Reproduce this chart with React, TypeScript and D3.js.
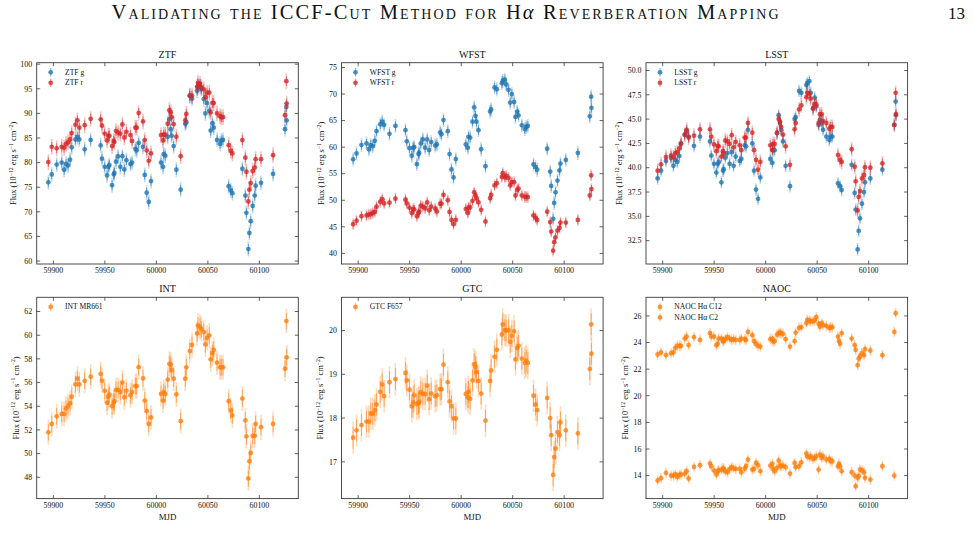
import React from "react";
import * as d3 from "d3";

const mjd = [
  59895.1, 59898.4, 59903.2, 59908.1, 59910.4, 59912.3, 59914.2, 59916.2, 59917.8, 59921.4,
  59923.3, 59925.2, 59930.4, 59936.2, 59945.9, 59947.2, 59949.8, 59952.1, 59953.4, 59954.4,
  59957.0, 59958.6, 59959.2, 59960.8, 59962.8, 59965.0, 59967.0, 59968.9, 59970.9, 59974.8,
  59976.4, 59979.6, 59980.9, 59982.8, 59987.0, 59988.7, 59990.6, 59992.6, 59994.8, 60004.5,
  60006.5, 60007.1, 60008.7, 60011.0, 60012.6, 60013.9, 60014.9, 60016.8, 60019.4, 60023.6,
  60028.1, 60029.1, 60032.4, 60034.6, 60039.5, 60040.4, 60042.4, 60043.7, 60046.0, 60047.6,
  60049.2, 60051.4, 60052.7, 60054.4, 60055.7, 60058.9, 60061.8, 60063.1, 60064.7, 60070.2,
  60072.2, 60073.8, 60083.5, 60086.4, 60087.4, 60089.3, 60090.3, 60091.6, 60093.5, 60095.5,
  60096.4, 60101.6, 60113.3, 60124.9, 60126.2, 60126.5,
];

const ztfG = [
  76.0, 77.6, 79.6, 80.0, 78.55, 79.76, 79.4, 80.6, 83.1, 84.7,
  85.2, 84.7, 82.7, 84.6, 83.5, 80.8, 79.15, 77.4, 79.15, 79.5,
  75.4, 77.6, 77.9, 80.2, 81.25, 79.15, 81.3, 78.6, 80.5, 79.7,
  80.0, 82.8, 82.5, 84.0, 83.2, 77.5, 73.9, 72.0, 76.25, 80.0,
  79.15, 81.7, 81.4, 85.25, 88.8, 86.8, 85.45, 83.35, 78.55, 74.5,
  87.9, 88.2, 93.6, 93.0, 94.6, 95.4, 95.5, 95.0, 92.9, 90.0,
  92.1, 90.5, 86.5, 88.0, 87.1, 84.6, 83.8, 84.5, 84.6, 75.2,
  74.35, 73.8, 78.75, 73.3, 69.8, 62.44, 65.7, 68.1, 71.2, 73.3,
  75.3, 75.9, 77.7, 86.8, 91.3, 88.6,
];
const ztfR = [
  80.1, 83.2, 82.9, 83.2, 83.0, 83.8, 84.1, 84.7, 86.0, 87.7,
  88.6, 87.1, 87.6, 88.9, 88.8, 87.5, 85.9, 84.5, 85.45, 85.45,
  83.35, 84.4, 84.2, 86.4, 86.1, 85.85, 87.75, 85.1, 86.26, 85.6,
  84.4, 87.1, 87.1, 90.1, 88.36, 84.57, 82.47, 80.37, 81.86, 85.6,
  84.5, 85.7, 85.7, 87.9, 90.66, 90.2, 89.24, 87.8, 85.25, 81.3,
  88.6, 89.9, 93.6, 93.6, 95.4, 96.2, 96.0, 95.3, 94.9, 93.3,
  94.2, 94.2, 90.2, 92.15, 92.1, 90.0, 89.44, 89.2, 89.24, 83.55,
  82.4, 81.86, 84.57, 81.0, 78.14, 72.1, 74.5, 75.84, 78.3, 79.0,
  80.7, 80.7, 81.5, 89.64, 96.55, 92.0,
];

const wfstG = [
  57.7, 58.8, 60.4, 60.7, 59.6, 60.4, 60.2, 61.2, 63.0, 64.3,
  64.8, 64.2, 62.5, 64.0, 63.2, 61.1, 59.8, 58.4, 59.9, 60.0,
  56.8, 58.7, 58.95, 60.7, 61.45, 59.9, 61.45, 59.45, 60.95, 60.3,
  60.5, 62.8, 62.45, 65.1, 63.0, 58.7, 55.8, 54.3, 57.75, 60.5,
  59.9, 61.95, 61.8, 64.8, 67.5, 65.9, 64.8, 63.2, 59.6, 56.4,
  66.7, 67.1, 71.24, 70.9, 72.05, 72.5, 72.7, 71.8, 70.8, 68.4,
  70.0, 68.5, 65.7, 66.7, 66.0, 64.1, 63.4, 63.8, 64.0, 56.75,
  56.25, 55.75, 59.7, 55.4, 52.7, 46.5, 49.5, 51.5, 53.7, 55.6,
  56.9, 57.6, 58.9, 65.8, 69.5, 67.4,
];
const wfstR = [
  45.5, 46.15, 47.0, 47.15, 47.3, 47.4, 47.6, 47.8, 48.8, 49.7,
  50.2, 49.4, 49.55, 50.3, 50.1, 49.4, 48.6, 47.6, 48.35, 48.3,
  47.0, 47.6, 47.85, 49.0, 48.8, 48.5, 49.6, 48.1, 48.8, 48.4,
  47.9, 49.35, 49.35, 51.0, 50.0, 47.8, 46.3, 45.5, 46.3, 48.35,
  47.6, 48.65, 48.65, 49.9, 51.5, 50.9, 50.35, 49.6, 48.2, 46.0,
  50.4, 51.0, 52.8, 53.2, 54.4, 55.1, 54.3, 54.6, 54.2, 52.85,
  53.4, 53.4, 50.9, 52.0, 52.2, 50.9, 50.65, 50.65, 50.6, 47.15,
  46.7, 46.3, 47.85, 45.9, 44.1, 40.5, 42.1, 43.0, 44.3, 44.8,
  45.8, 45.8, 46.3, 50.9, 54.7, 52.1,
];

const lsstG = [
  38.9, 39.7, 40.7, 41.0, 40.2, 40.8, 40.6, 41.2, 42.45, 43.4,
  43.7, 43.2, 42.25, 43.2, 42.7, 41.25, 40.4, 39.5, 40.4, 40.6,
  38.5, 39.7, 39.85, 41.05, 41.5, 40.4, 41.6, 40.2, 41.15, 40.7,
  40.9, 42.3, 42.2, 43.9, 42.5, 39.7, 37.75, 36.8, 39.0, 40.9,
  40.5, 41.8, 41.8, 43.55, 45.4, 44.6, 43.9, 42.7, 40.2, 38.1,
  45.0, 45.2, 47.9, 47.7, 48.5, 48.7, 48.9, 47.7, 46.1, 47.2,
  46.3, 44.4, 44.9, 44.6, 43.9, 43.2, 42.85, 43.2, 43.2, 38.4,
  38.1, 37.7, 40.3, 37.4, 35.7, 31.6, 33.5, 34.8, 36.3, 37.5,
  38.5, 38.9, 39.8, 44.4, 46.8, 45.4,
];
const lsstR = [
  39.7, 40.35, 41.1, 41.25, 41.1, 41.5, 41.6, 42.0, 42.5, 43.4,
  43.9, 43.1, 43.3, 43.95, 43.95, 43.2, 42.4, 41.7, 42.25, 42.2,
  41.15, 41.7, 41.5, 42.8, 42.7, 42.45, 43.35, 42.1, 42.65, 42.3,
  41.8, 43.1, 43.1, 44.6, 43.6, 41.8, 40.8, 39.8, 40.6, 42.3,
  41.8, 42.45, 42.45, 43.6, 45.0, 44.75, 44.2, 43.4, 42.2, 40.3,
  43.95, 44.6, 46.0, 46.4, 47.25, 47.7, 47.6, 47.1, 46.1, 46.55,
  46.5, 44.6, 45.5, 45.5, 44.8, 44.6, 44.0, 44.2, 44.2, 41.3,
  40.8, 40.6, 41.9, 40.1, 38.6, 35.6, 37.0, 37.6, 38.9, 39.25,
  40.05, 40.0, 40.45, 44.4, 47.7, 45.5,
];

const intMR = [
  51.8, 52.5, 53.15, 53.35, 53.35, 53.8, 54.0, 54.25, 54.8, 55.85,
  56.33, 55.85, 56.15, 56.5, 56.73, 56.15, 55.3, 54.3, 54.8, 54.97,
  54.0, 54.3, 54.4, 55.38, 55.38, 55.2, 56.0, 54.76, 55.3, 54.93,
  55.2, 55.7, 55.7, 57.3, 56.35, 54.48, 53.6, 52.5, 53.05, 55.04,
  54.48, 55.2, 55.04, 56.25, 57.57, 57.5, 57.06, 56.33, 55.0, 52.74,
  56.33, 57.29, 58.66, 59.17, 60.15, 60.82, 60.7, 60.5, 60.26, 59.22,
  59.78, 59.98, 57.96, 58.47, 58.75, 57.68, 57.29, 57.29, 57.29, 54.42,
  53.64, 53.22, 54.65, 52.8, 51.45, 47.9, 49.35, 50.05, 51.5, 51.5,
  52.5, 52.23, 52.5, 57.17, 61.19, 58.13,
];

const gtcF = [
  17.55, 17.72, 17.84, 17.92, 17.92, 18.1, 18.1, 18.18, 18.31, 18.6,
  18.77, 18.5, 18.82, 18.89, 19.03, 18.86, 18.65, 18.27, 18.36, 18.52,
  18.32, 18.34, 18.37, 18.59, 18.55, 18.55, 18.74, 18.43, 18.56, 18.5,
  18.52, 18.66, 18.66, 19.22, 18.82, 18.38, 18.27, 17.99, 17.99, 18.55,
  18.47, 18.6, 18.44, 18.86, 19.23, 19.17, 19.05, 18.85, 18.56, 17.94,
  18.85, 19.09, 19.4, 19.56, 19.91, 20.14, 20.01, 20.0, 20.01, 19.74,
  19.88, 19.98, 19.34, 19.6, 19.65, 19.36, 19.26, 19.31, 19.26, 18.51,
  18.31, 18.18, 18.46, 18.0, 17.61, 16.7, 17.11, 17.3, 17.68, 17.61,
  17.9, 17.72, 17.65, 19.12, 20.14, 19.47,
];

const naocMjd = [
  59895.1, 59898.4, 59903.2, 59908.1, 59910.4, 59912.3, 59914.2, 59916.2, 59917.8, 59921.4,
  59923.3, 59925.2, 59930.4, 59936.2, 59945.9, 59947.2, 59949.8, 59952.1, 59953.4, 59954.4,
  59957.0, 59958.6, 59959.2, 59960.8, 59962.8, 59965.0, 59967.0, 59968.9, 59970.9, 59974.8,
  59976.4, 59979.6, 59980.9, 59982.8, 59987.0, 59988.7, 59990.6, 59992.6, 59994.8, 60004.5,
  60006.5, 60007.1, 60008.7, 60011.0, 60012.6, 60013.9, 60014.9, 60016.8, 60019.4, 60023.6,
  60028.1, 60029.1, 60032.4, 60034.6, 60039.5, 60040.4, 60042.4, 60043.7, 60046.0, 60047.6,
  60049.2, 60051.4, 60052.7, 60054.4, 60055.7, 60058.9, 60061.8, 60063.1, 60064.7, 60070.2,
  60071.2, 60072.2, 60073.8, 60083.5, 60086.4, 60087.4, 60089.3, 60090.3, 60091.6, 60093.5,
  60095.5, 60096.4, 60101.6, 60113.3, 60124.9, 60126.2,
];
const naocC12 = [
  23.1, 23.25, 23.05, 23.2, 23.25, 23.6, 23.75, 23.75, 23.75, 24.3,
  24.45, 23.8, 24.4, 24.2, 24.7, 24.45, 24.45, 23.8, 23.9, 24.3,
  24.3, 24.1, 24.1, 24.25, 24.4, 24.3, 24.2, 24.25, 24.2, 24.2,
  24.3, 24.25, 24.2, 24.8, 24.55, 24.1, 23.9, 23.75, 23.7, 24.25,
  24.25, 24.1, 24.1, 24.6, 24.7, 24.75, 24.7, 24.65, 24.25, 23.7,
  24.1, 24.75, 25.1, 25.15, 25.45, 25.7, 25.65, 25.6, 25.6, 25.65,
  25.9, 25.4, 25.2, 25.45, 25.3, 25.25, 25.1, 25.15, 25.15, 24.45,
  24.1, 23.9, 24.7, 24.3, 23.8, 23.45, 22.3, 22.8, 22.95, 23.2,
  23.05, 23.5, 23.4, 23.05, 24.8, 26.2,
];
const naocC2 = [
  13.63, 13.8, 14.2, 14.0, 14.0, 14.08, 13.9, 14.05, 14.08, 14.15,
  14.33, 13.78, 14.65, 14.78, 14.9, 14.7, 14.38, 14.08, 14.33, 14.4,
  14.45, 14.53, 14.5, 14.33, 14.25, 14.5, 14.63, 14.53, 14.5, 14.5,
  14.25, 14.53, 14.7, 15.2, 14.45, 14.5, 14.95, 14.78, 14.33, 14.75,
  14.88, 14.5, 14.33, 14.58, 15.13, 14.75, 14.7, 14.75, 14.63, 14.15,
  14.95, 14.63, 14.7, 15.0, 15.65, 15.45, 15.38, 15.45, 15.25, 15.33,
  15.45, 14.45, 15.58, 15.33, 15.45, 15.2, 15.25, 15.08, 15.08, 14.7,
  14.88, 14.7, 14.33, 14.25, 14.0, 13.2, 13.83, 13.95, 14.45, 14.4,
  14.25, 13.83, 13.7, 14.7, 14.0, NaN,
];

const xTicks = [59900, 59950, 60000, 60050, 60100];
const ztfTicks = [60, 65, 70, 75, 80, 85, 90, 95, 100];
const wfstTicks = [40, 45, 50, 55, 60, 65, 70, 75];
const lsstTicks = [32.5, 35, 37.5, 40, 42.5, 45, 47.5, 50];
const intTicks = [48, 50, 52, 54, 56, 58, 60, 62];
const gtcTicks = [17, 18, 19, 20];
const naocTicks = [14, 16, 18, 20, 22, 24, 26];

const BLUE = "#1f77b4";
const RED = "#d62728";
const ORANGE = "#ff7f0e";
const FONT = "'Liberation Serif', 'Times New Roman', Times, serif";
const xDomain: [number, number] = [59883.8, 60137.8];

type Series = { x: number[]; y: number[]; err: number; errOut: number; color: string; label: string };

type PanelProps = {
  x0: number; y0: number; w: number; h: number; title: string;
  yDomain: [number, number]; yTicks: number[]; yFmt: (v: number) => string;
  series: Series[]; xlabel: boolean; ylabelOff: number;
};

function Panel(p: PanelProps) {
  const xs = d3.scaleLinear().domain(xDomain).range([p.x0, p.x0 + p.w]);
  const ys = d3.scaleLinear().domain(p.yDomain).range([p.y0 + p.h, p.y0]);
  const tl = 3.5;
  const frame = "#3a3a3a";
  const bottom = p.y0 + p.h;
  const right = p.x0 + p.w;
  const ylx = p.x0 - p.ylabelOff;
  const ylyc = p.y0 + p.h / 2;
  return (
    <g>
      <text x={p.x0 + p.w / 2} y={p.y0 - 5} textAnchor="middle" fontSize={10} fontFamily={FONT} fill="#111">{p.title}</text>
      {p.series.map((s, si) => (
        <g key={si}>
          {s.x.map((xv, i) => {
            const v = s.y[i];
            if (!isFinite(v)) return null;
            const cx = xs(xv);
            return (
              <g key={i}>
                <line x1={cx} x2={cx} y1={ys(v - s.errOut)} y2={ys(v + s.errOut)} stroke={s.color} strokeOpacity={0.28} strokeWidth={1.6} />
                <line x1={cx} x2={cx} y1={ys(v - s.err)} y2={ys(v + s.err)} stroke={s.color} strokeOpacity={0.6} strokeWidth={1} />
                <circle cx={cx} cy={ys(v)} r={2.4} fill={s.color} fillOpacity={0.8} />
              </g>
            );
          })}
        </g>
      ))}
      {p.series.map((s, si) => {
        const ly = p.y0 + 9.6 + si * 10.5;
        const lx = p.x0 + 14;
        return (
          <g key={"lg" + si}>
            <line x1={lx} x2={lx} y1={ly - 4.2} y2={ly + 4.2} stroke={s.color} strokeOpacity={0.5} strokeWidth={1.2} />
            <circle cx={lx} cy={ly} r={2.4} fill={s.color} fillOpacity={0.8} />
            <text x={p.x0 + 28.3} y={ly} dy="0.33em" fontSize={7.6} fontFamily={FONT} fill="#111">{s.label}</text>
          </g>
        );
      })}
      <rect x={p.x0} y={p.y0} width={p.w} height={p.h} fill="none" stroke={frame} strokeWidth={0.9} />
      {xTicks.map((t) => (
        <g key={"xt" + t}>
          <line x1={xs(t)} x2={xs(t)} y1={bottom} y2={bottom - tl} stroke={frame} strokeWidth={0.8} />
          <line x1={xs(t)} x2={xs(t)} y1={p.y0} y2={p.y0 + tl} stroke={frame} strokeWidth={0.8} />
          <text x={xs(t)} y={bottom + 9} textAnchor="middle" fontSize={7.9} fontFamily={FONT} fill="#111">{t}</text>
        </g>
      ))}
      {p.yTicks.map((t) => (
        <g key={"yt" + t}>
          <line x1={p.x0} x2={p.x0 + tl} y1={ys(t)} y2={ys(t)} stroke={frame} strokeWidth={0.8} />
          <line x1={right} x2={right - tl} y1={ys(t)} y2={ys(t)} stroke={frame} strokeWidth={0.8} />
          <text x={p.x0 - 4.5} y={ys(t)} dy="0.35em" textAnchor="end" fontSize={7.9} fontFamily={FONT} fill="#111">{p.yFmt(t)}</text>
        </g>
      ))}
      <text transform={`translate(${ylx},${ylyc}) rotate(-90)`} textAnchor="middle" dy="0.35em" fontSize={8.4} fontFamily={FONT} fill="#111">
        <tspan>Flux (10</tspan>
        <tspan fontSize={5.8} dy={-3.2}>−12</tspan>
        <tspan dy={3.2}> erg s</tspan>
        <tspan fontSize={5.8} dy={-3.2}>−1</tspan>
        <tspan dy={3.2}> cm</tspan>
        <tspan fontSize={5.8} dy={-3.2}>−2</tspan>
        <tspan dy={3.2}>)</tspan>
      </text>
      {p.xlabel && (
        <text x={p.x0 + p.w / 2} y={bottom + 21.5} textAnchor="middle" fontSize={8.8} fontFamily={FONT} fill="#111">MJD</text>
      )}
    </g>
  );
}

export default function App() {
  const W = 973, H = 551;
  const pw = 261.6, ph = 201.3;
  const cols = [36.7, 341.5, 646];
  const rows = [62.7, 297.3];
  const fInt = d3.format("d");
  const f1 = d3.format(".1f");
  return (
    <div style={{ position: "absolute", left: 0, top: 0 }}>
      <svg width={W} height={H} viewBox={`0 0 ${W} ${H}`} style={{ display: "block", background: "#fff" }}>
        <text x={111.5} y={19.3} fontSize={20.5} fontFamily={FONT} fill="#111" textLength={667} lengthAdjust="spacing"
          style={{ fontVariant: "small-caps" }}>
          Validating the ICCF-Cut Method for H<tspan fontStyle="italic" style={{ fontVariant: "normal" }}>α</tspan> Reverberation Mapping
        </text>
        <text x={965} y={19.3} textAnchor="end" fontSize={17} fontFamily={FONT} fill="#111">13</text>
        <Panel x0={cols[0]} y0={rows[0]} w={pw} h={ph} title="ZTF" yDomain={[59.4, 100.3]} yTicks={ztfTicks} yFmt={fInt}
          xlabel={false} ylabelOff={23.5}
          series={[
            { x: mjd, y: ztfG, err: 1.0, errOut: 1.5, color: BLUE, label: "ZTF g" },
            { x: mjd, y: ztfR, err: 1.0, errOut: 1.6, color: RED, label: "ZTF r" },
          ]} />
        <Panel x0={cols[1]} y0={rows[0]} w={pw} h={ph} title="WFST" yDomain={[38.0, 75.9]} yTicks={wfstTicks} yFmt={fInt}
          xlabel={false} ylabelOff={20.5}
          series={[
            { x: mjd, y: wfstG, err: 0.9, errOut: 1.3, color: BLUE, label: "WFST g" },
            { x: mjd, y: wfstR, err: 0.8, errOut: 1.1, color: RED, label: "WFST r" },
          ]} />
        <Panel x0={cols[2]} y0={rows[0]} w={pw} h={ph} title="LSST" yDomain={[30.1, 50.8]} yTicks={lsstTicks} yFmt={f1}
          xlabel={false} ylabelOff={26.5}
          series={[
            { x: mjd, y: lsstG, err: 0.45, errOut: 0.65, color: BLUE, label: "LSST g" },
            { x: mjd, y: lsstR, err: 0.5, errOut: 0.75, color: RED, label: "LSST r" },
          ]} />
        <Panel x0={cols[0]} y0={rows[1]} w={pw} h={ph} title="INT" yDomain={[46.2, 63.2]} yTicks={intTicks} yFmt={fInt}
          xlabel={true} ylabelOff={21}
          series={[{ x: mjd, y: intMR, err: 0.7, errOut: 1.05, color: ORANGE, label: "INT MR661" }]} />
        <Panel x0={cols[1]} y0={rows[1]} w={pw} h={ph} title="GTC" yDomain={[16.16, 20.76]} yTicks={gtcTicks} yFmt={fInt}
          xlabel={true} ylabelOff={21}
          series={[{ x: mjd, y: gtcF, err: 0.25, errOut: 0.37, color: ORANGE, label: "GTC F657" }]} />
        <Panel x0={cols[2]} y0={rows[1]} w={pw} h={ph} title="NAOC" yDomain={[12.27, 27.4]} yTicks={naocTicks} yFmt={fInt}
          xlabel={true} ylabelOff={21}
          series={[
            { x: naocMjd, y: naocC12, err: 0.25, errOut: 0.4, color: ORANGE, label: "NAOC Hα C12" },
            { x: naocMjd, y: naocC2, err: 0.25, errOut: 0.4, color: ORANGE, label: "NAOC Hα C2" },
          ]} />
      </svg>
    </div>
  );
}
